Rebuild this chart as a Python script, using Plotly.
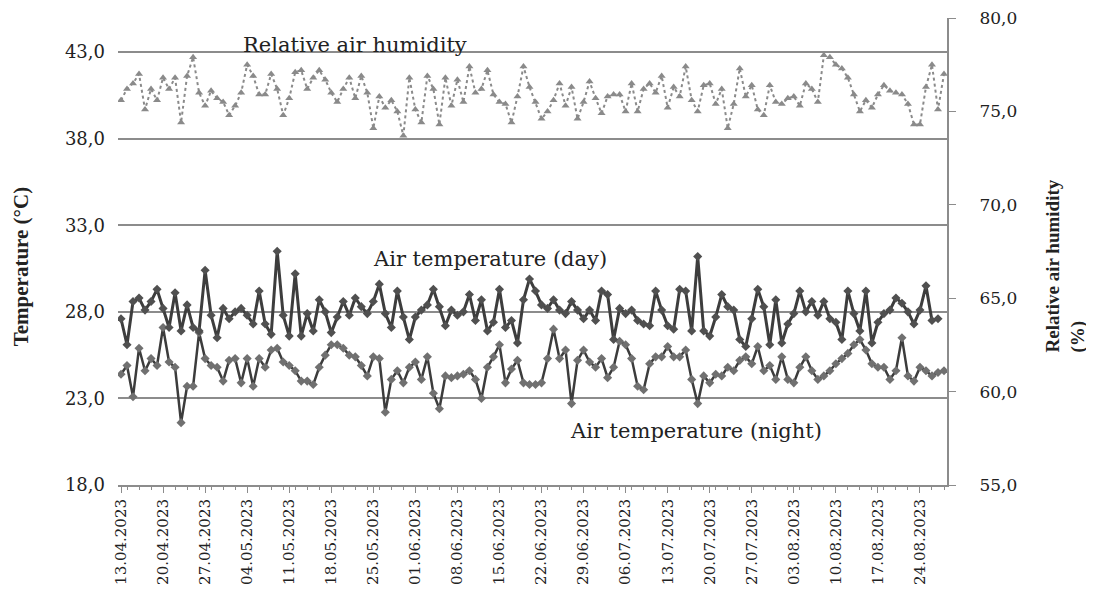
import pandas as pd
import plotly.graph_objects as go

# daily readings, 13.04.2023 onwards
start_date = "2023-04-13"

day_temp = [27.6, 26.1, 28.6, 28.8, 28.1, 28.6, 29.3, 28.2, 27.1, 29.1,
            26.9, 28.4, 27.1, 26.9, 30.4, 27.8, 26.5, 28.2, 27.6, 28.0,
            28.2, 27.8, 27.3, 29.2, 27.3, 26.7, 31.5, 27.8, 26.6, 30.2,
            26.6, 27.9, 26.9, 28.7, 28.0, 26.8, 27.7, 28.6, 27.8, 28.8,
            28.3, 27.9, 28.6, 29.6, 27.9, 27.1, 29.2, 27.7, 26.4, 27.7,
            28.1, 28.4, 29.3, 28.3, 27.2, 28.1, 27.8, 28.0, 29.0, 27.5,
            28.7, 26.9, 27.4, 29.3, 27.1, 27.5, 26.2, 28.7, 29.9,
            29.2, 28.4, 28.2, 28.7, 28.1, 27.9, 28.6, 28.1, 27.6, 28.1,
            27.5, 29.2, 29.0, 26.4, 28.2, 27.9, 28.1, 27.5, 27.3, 27.2,
            29.2, 28.1, 27.2, 27.0, 29.3, 29.2, 26.9, 31.2, 26.9, 26.6,
            27.7, 29.0, 28.3, 28.1, 26.4, 26.0, 27.6, 29.3, 28.3, 26.1,
            28.7, 26.2, 27.3, 27.9, 29.2, 28.0, 28.6, 27.8, 28.6, 27.6,
            27.4, 26.4, 29.2, 27.9, 26.9, 29.2, 26.2, 27.4, 27.9, 28.1,
            28.8, 28.5, 28.0, 27.3, 28.1, 29.5, 27.5, 27.6]

night_temp = [24.4, 24.9, 23.1, 25.9, 24.6, 25.3, 24.9, 27.1, 25.1, 24.8,
              21.6, 23.7, 23.7, 26.8, 25.3, 24.9, 24.8, 24.0, 25.2, 25.3,
              23.9, 25.3, 23.7, 25.3, 24.8, 25.8, 25.9, 25.1, 24.9, 24.6,
              24.0, 24.0, 23.8, 24.8, 25.5, 26.1, 26.1, 25.9, 25.5, 25.4,
              24.9, 24.3, 25.4, 25.3, 22.2, 24.1, 24.6, 23.9, 24.8, 25.1,
              24.1, 25.4, 23.3, 22.4, 24.3, 24.2, 24.3, 24.4, 24.6, 24.1,
              23.0, 24.8, 25.4, 26.1, 23.9, 24.7, 25.2, 23.9, 23.8, 23.8,
              23.9, 25.3, 27.0, 25.3, 25.8, 22.7, 25.2, 25.8, 25.1, 24.8,
              25.3, 24.2, 24.8, 26.3, 26.1, 25.3, 23.7, 23.5, 25.0, 25.4,
              25.4, 26.0, 25.4, 25.4, 25.8, 24.1, 22.7, 24.3, 23.9, 24.4,
              24.3, 24.8, 24.6, 25.2, 25.4, 25.0, 26.0, 24.6, 24.9, 24.1,
              25.4, 24.1, 23.9, 24.8, 25.4, 24.6, 24.1, 24.3, 24.6, 25.0,
              25.3, 25.6, 26.1, 26.4, 25.8, 25.0, 24.8, 24.8, 24.1, 24.6,
              26.5, 24.3, 24.0, 24.8, 24.6, 24.3, 24.5, 24.6]

humidity = [75.6, 76.2, 76.5, 77.0, 75.1, 76.2, 75.6, 76.8, 76.2, 76.8,
            74.4, 76.9, 77.9, 76.0, 75.3, 76.1, 75.7, 75.5, 74.8, 75.3,
            76.0, 77.5, 76.9, 75.9, 75.9, 77.0, 76.2, 74.8, 75.7, 77.1,
            77.2, 76.2, 76.8, 77.2, 76.7, 76.0, 75.5, 76.2, 76.8, 75.7,
            76.9, 76.0, 74.1, 75.8, 75.2, 75.6, 75.0, 73.7, 76.8, 75.1,
            74.4, 76.9, 76.2, 74.3, 76.8, 75.3, 76.7, 75.5, 77.4, 76.0,
            76.2, 77.2, 75.9, 75.5, 75.4, 74.4, 75.8,
            77.4, 76.3, 75.5, 74.6, 75.0, 75.6, 76.5, 75.3, 76.3, 74.6,
            75.5, 76.6, 75.7, 74.9, 75.8, 75.9, 75.9, 75.0, 76.5, 75.0,
            76.2, 76.5, 76.0, 76.9, 75.2, 76.3, 75.8, 77.4, 75.6, 75.0,
            76.4, 76.5, 75.4, 76.2, 74.1, 75.4, 77.3, 75.8, 76.4, 75.1,
            74.8, 76.4, 75.5, 75.4, 75.7, 75.8, 75.3, 76.5, 76.2, 75.5,
            78.0, 77.9, 77.5, 77.3, 76.8, 75.9, 75.0, 75.6, 75.2, 75.9,
            76.4, 76.1, 76.0, 75.9, 75.4, 74.3, 74.3, 76.3, 77.5, 75.1,
            77.0]

temp_ticks = [18, 23, 28, 33, 38, 43]

dates = pd.date_range(start_date, periods=len(night_temp), freq="D")

serif = "DejaVu Serif"
grid = "#8c8c8c"

fig = go.Figure()

fig.add_trace(go.Scatter(
    x=dates[:len(humidity)], y=humidity, yaxis="y2", mode="lines+markers",
    line=dict(color="#8a8a8a", width=2, dash="dot"),
    marker=dict(symbol="triangle-up", size=7, color="#8a8a8a"),
    showlegend=False))

fig.add_trace(go.Scatter(
    x=dates, y=night_temp, mode="lines+markers",
    line=dict(color="#3c3c3c", width=2.5),
    marker=dict(symbol="diamond", size=7, color="#707070"),
    showlegend=False))

fig.add_trace(go.Scatter(
    x=dates[:len(day_temp)], y=day_temp, mode="lines+markers",
    line=dict(color="#3d3d3d", width=3),
    marker=dict(symbol="diamond", size=7, color="#505050"),
    showlegend=False))

# page body adds 8px, so the figure is 8px smaller than the window
fig.update_layout(
    width=1086, height=586,
    margin=dict(l=110, r=147, t=10, b=109, autoexpand=False),
    plot_bgcolor="white", paper_bgcolor="white",
    separators=", ",
    font=dict(family=serif, color="#222222", size=15),
    xaxis=dict(
        type="date", automargin=False,
        range=["2023-04-12 12:00", "2023-08-28 12:00"],
        tick0=start_date, dtick=7 * 86400000,
        tickformat="%d.%m.%Y", tickangle=-90,
        tickfont=dict(size=15),
        showgrid=False, zeroline=False,
        showline=True, linecolor=grid, linewidth=2,
        ticks="outside", ticklen=6, tickcolor=grid,
        minor=dict(dtick=2 * 86400000, ticks="outside", ticklen=3,
                   tickcolor=grid, showgrid=False),
    ),
    yaxis=dict(
        automargin=False,
        range=[18, 44.97], tickvals=temp_ticks, tickformat=".1f",
        showgrid=True, gridcolor=grid, gridwidth=1.5,
        zeroline=False, showline=False, ticks="",
        tickfont=dict(size=18), ticklabelstandoff=12,
    ),
    yaxis2=dict(
        automargin=False,
        overlaying="y", side="right", range=[55, 80], dtick=5,
        tickformat=".1f", showgrid=False, zeroline=False,
        showline=True, linecolor=grid, linewidth=2,
        ticks="outside", ticklen=7, tickcolor=grid,
        tickfont=dict(size=17), ticklabelstandoff=20,
        ticklabeloverflow="allow",
    ),
)

fig.add_annotation(x=0.286, y=0.943, xref="paper", yref="paper",
                   xanchor="center", yanchor="middle",
                   text="Relative air humidity", showarrow=False,
                   font=dict(size=21, family=serif))
fig.add_annotation(x=0.449, y=0.485, xref="paper", yref="paper",
                   xanchor="center", yanchor="middle",
                   text="Air temperature (day)", showarrow=False,
                   font=dict(size=21, family=serif))
fig.add_annotation(x=0.697, y=0.115, xref="paper", yref="paper",
                   xanchor="center", yanchor="middle",
                   text="Air temperature (night)", showarrow=False,
                   font=dict(size=21, family=serif))

fig.add_annotation(x=-0.116, y=0.468, xref="paper", yref="paper",
                   xanchor="center", yanchor="middle",
                   text="<b>Temperature (°C)</b>", showarrow=False,
                   textangle=-90, font=dict(size=21, family="Liberation Serif"))
fig.add_annotation(x=1.1435, y=0.47, xref="paper", yref="paper",
                   xanchor="center", yanchor="middle",
                   text="<b>Relative air humidity<br>(%)</b>", showarrow=False,
                   textangle=-90, align="left",
                   font=dict(size=19, family="Liberation Serif"))

fig.write_html("out.html")
